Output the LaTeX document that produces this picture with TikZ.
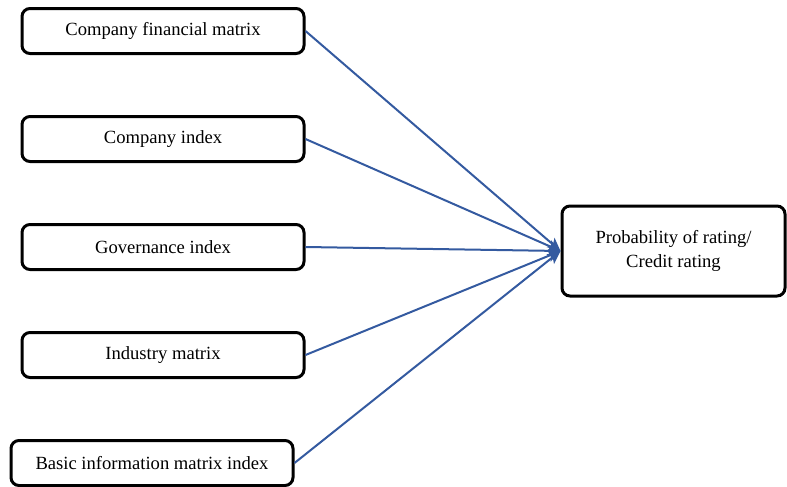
\documentclass[tikz,border=0pt]{standalone}
\usepackage{fontspec}
\setmainfont{Liberation Serif}
\usetikzlibrary{positioning,arrows.meta}
\definecolor{linkblue}{RGB}{52,90,160}

\begin{document}
\begin{tikzpicture}[node distance=30pt and 127.5pt,
        kotak/.style={rectangle, draw, rounded corners=4pt, line width=1.5pt, minimum width=141pt, minimum height=22.5pt, align=center, font=\fontsize{9.3}{12}\selectfont},
        panah/.style={-{Stealth[length=6.5pt,width=6pt,inset=1.5pt]}, draw=linkblue, line width=1pt}]
        \useasboundingbox (0,0) rectangle (393.5pt,-243.5pt);

        % Input boxes
        \node (fin) [kotak] at (81.5pt,-15.5pt) {Company financial matrix};
        \node (comp) [kotak, below=of fin] {Company index};
        \node (gov) [kotak, below=of comp] {Governance index};
        \node (ind) [kotak, below=of gov] {Industry matrix};
        \node (basic) [kotak, below=of ind, xshift=-5.5pt] {Basic information matrix index};

        % Output box
        \node (rate) [kotak, right=of gov, yshift=-2pt, minimum width=111.5pt, minimum height=45pt] {Probability of rating/\\Credit rating};

        % Arrows
        \draw [panah] (fin.east) -- (rate.west);
        \draw [panah] (comp.east) -- (rate.west);
        \draw [panah] (gov.east) -- (rate.west);
        \draw [panah] (ind.east) -- (rate.west);
        \draw [panah] (basic.east) -- (rate.west);
    \end{tikzpicture}
\end{document}
